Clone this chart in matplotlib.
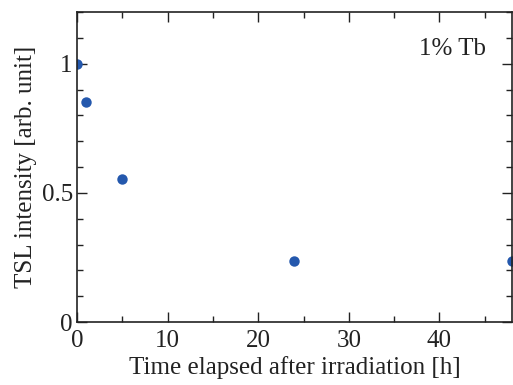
import matplotlib
matplotlib.use("Agg")
import matplotlib.pyplot as plt
from matplotlib.ticker import MultipleLocator

# data
hours = [0, 1, 5, 24, 48]
intensity = [1.0, 0.85, 0.555, 0.235, 0.235]

plt.rcParams['font.family'] = ['Liberation Serif', 'DejaVu Serif']

fig = plt.figure(figsize=(5.13, 3.85), dpi=100)
ax = fig.add_axes([0.150, 0.1636, 0.848, 0.805])

ax.plot(hours, intensity, 'o', color='#2458ad', markersize=7.5, markeredgewidth=0)

ax.set_xlim(0, 48)
ax.set_ylim(0, 1.2)
ax.xaxis.set_major_locator(MultipleLocator(10))
ax.xaxis.set_minor_locator(MultipleLocator(5))
ax.yaxis.set_major_locator(MultipleLocator(0.5))
ax.yaxis.set_minor_locator(MultipleLocator(0.1))
ax.yaxis.set_major_formatter(plt.FuncFormatter(lambda v, p: ('%g' % v)))

ax.tick_params(which='both', direction='in', top=True, right=True, width=1.0,
               labelsize=18, colors='#222222')
ax.tick_params(which='major', length=7)
ax.tick_params(axis='x', which='major', pad=6)
ax.tick_params(axis='y', which='major', pad=3)
ax.tick_params(which='minor', length=4)
for s in ax.spines.values():
    s.set_linewidth(1.2)
    s.set_color('#222222')

ax.set_xlabel('Time elapsed after irradiation [h]', fontsize=18, labelpad=3, color='#222222')
ax.set_ylabel('TSL intensity [arb. unit]', fontsize=18, labelpad=3, color='#222222')
ax.text(0.94, 0.88, '1% Tb', transform=ax.transAxes, ha='right', va='center',
        fontsize=18, color='#222222')

fig.savefig('out.png', dpi=100)
